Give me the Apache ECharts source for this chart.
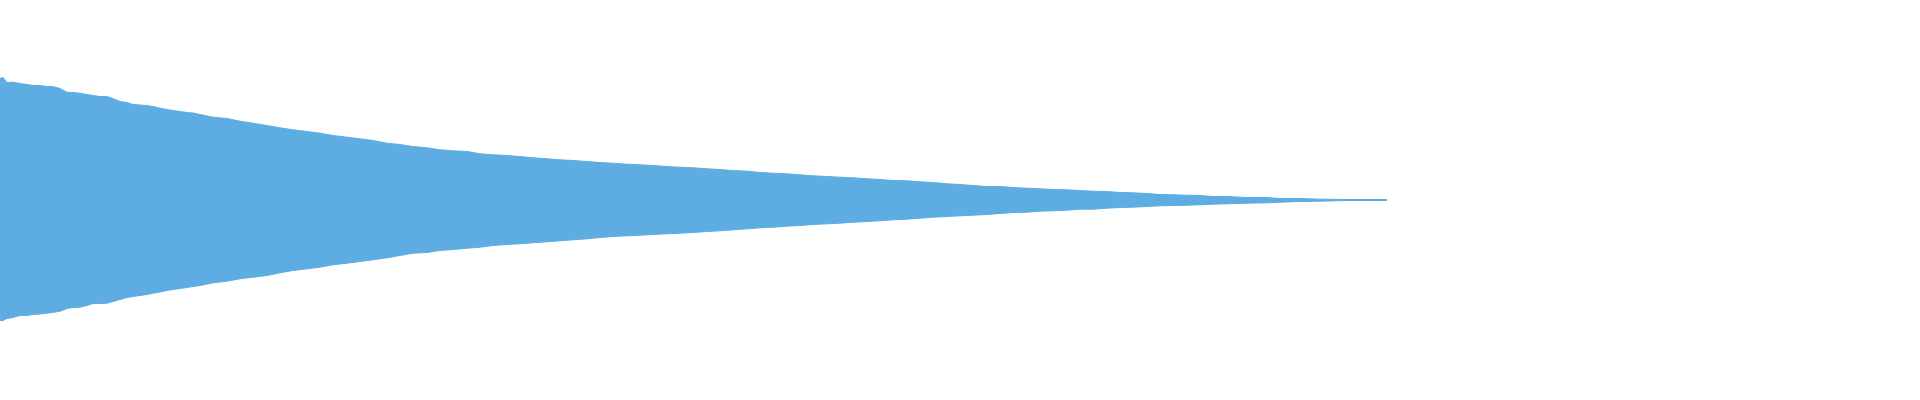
<!DOCTYPE html>
<html>
<head>
<meta charset="utf-8">
<script src="https://cdn.jsdelivr.net/npm/echarts@6/dist/echarts.min.js"></script>
<style>
  html, body { margin: 0; padding: 0; background: #ffffff; }
  #chart { width: 1920px; height: 400px; }
</style>
</head>
<body>
<div id="chart"></div>
<script>
// Sample positions along the waveform (time units)
const timeMs = [0,3,7,13,20,27,33,40,47,53,60,67,73,80,87,93,100,107,113,120,127,133,140,147,153,160,167,173,180,187,193,200,
  213,227,240,253,267,280,293,307,320,333,347,360,373,387,400,
  413,427,440,453,467,480,493,507,520,533,547,560,573,587,600,
  613,627,640,653,667,680,693,707,720,733,747,760,773,787,800,
  813,827,840,853,867,880,893,907,920,933,947,960,973,987,1000,
  1013,1027,1040,1053,1067,1080,1093,1107,1120,1133,1147,1160,1173,1187,1200,
  1213,1227,1247,1267,1280,1300,1320,1347,1387];

// Upper (positive) envelope of the waveform
const upperEnvelope = [121.5,122.5,117.5,117.8,116.5,115.5,114.5,114.5,113.5,113.5,111.5,107.8,107.5,106.8,105.5,104.5,103.5,103.5,101.5,98.5,97.5,95.5,95,94.5,93.5,91.8,90.5,89.5,88.5,87.5,87,85.5,
  82.8,81.5,78.8,76.8,74.5,72.2,70.2,68.5,66.8,64.5,62.8,61.2,59.5,56.8,55.5,
  53.5,52.2,50.2,49.2,48.5,46.2,45.2,44.5,43.5,42.2,41.2,40.2,39.5,38.5,37.5,
  36.8,35.8,35.2,34.5,33.5,32.8,32.2,31.2,30.5,29.5,28.8,27.5,26.8,26.2,25.2,
  24.2,23.5,22.8,22.2,21.2,20.5,19.5,19.2,18.2,17.5,16.2,15.5,14.5,13.5,13.5,
  12.5,11.8,11.2,10.5,10.2,9.5,8.8,8.5,7.5,7.2,6.5,5.5,5.2,4.8,4.5,
  3.5,3.5,2.5,2.5,1.5,1.5,0.8,0.5,0.5];

// Lower (negative) envelope of the waveform
const lowerEnvelope = [-120.5,-120.5,-118.5,-117.5,-115.5,-115.5,-114.5,-114,-113.2,-112.5,-111.2,-108.5,-107.5,-107.2,-105.5,-103.5,-103.5,-103.2,-101.5,-99.5,-97.5,-96.5,-95.5,-94.5,-93.2,-92,-90.5,-89.5,-88.5,-87.5,-86.5,-85.5,
  -82.8,-81.2,-78.8,-77.2,-75.5,-72.8,-70.5,-68.8,-67.2,-64.8,-63.2,-61.5,-59.8,-57.8,-55.5,
  -53.2,-52.5,-50.5,-49.5,-48.2,-47.2,-45.5,-44.5,-43.8,-42.8,-41.8,-40.8,-39.8,-38.8,-37.5,
  -36.5,-35.8,-35.2,-34.5,-33.8,-33.2,-32.5,-31.5,-30.8,-29.8,-28.8,-27.8,-27.2,-26.2,-25.5,
  -24.5,-23.8,-23.2,-22.2,-21.5,-20.8,-19.8,-19.2,-18.2,-17.2,-16.5,-15.8,-15.2,-14.5,-13.5,
  -12.5,-12.2,-11.2,-10.8,-10.2,-9.2,-9.2,-8.2,-7.5,-7.2,-6.5,-5.8,-5.5,-5.2,-4.8,
  -4.2,-3.8,-3.2,-2.8,-2.2,-1.5,-1.2,-0.5,-0.5];

const waveColor = '#5dade2';

const chart = echarts.init(document.getElementById('chart'), null, { renderer: 'canvas' });
const mk = (vals) => timeMs.map((t, i) => [t, vals[i]]);
const seriesBase = {
  type: 'line',
  showSymbol: false,
  symbol: 'none',
  silent: true,
  lineStyle: { width: 1, color: waveColor },
  areaStyle: { color: waveColor, opacity: 1 },
  itemStyle: { color: waveColor }
};
chart.setOption({
  animation: false,
  backgroundColor: '#ffffff',
  grid: { left: 0, right: 0, top: 0, bottom: 0, containLabel: false },
  xAxis: { type: 'value', min: 0, max: 1920, show: false },
  yAxis: { type: 'value', min: -200, max: 200, show: false },
  series: [
    Object.assign({}, seriesBase, { name: 'upper', data: mk(upperEnvelope) }),
    Object.assign({}, seriesBase, { name: 'lower', data: mk(lowerEnvelope) })
  ]
});
</script>
</body>
</html>
